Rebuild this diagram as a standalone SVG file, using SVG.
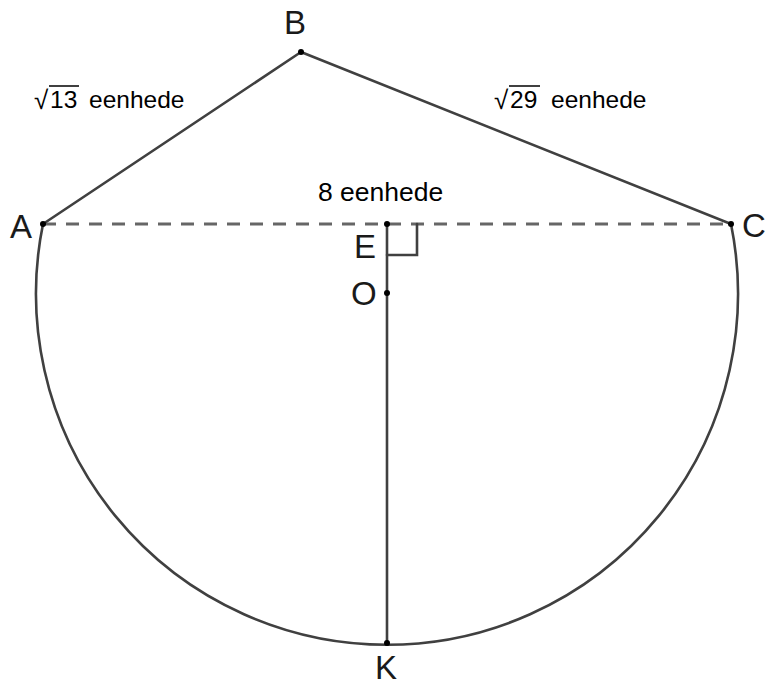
<svg xmlns="http://www.w3.org/2000/svg" width="769" height="686" viewBox="0 0 769 686">
<style>
.ln{fill:none;stroke:#404040;stroke-width:2.6;stroke-linecap:round}
.dash{fill:none;stroke:#666;stroke-width:3;stroke-dasharray:13 10}
.pt{fill:#000}
.lbl{font-family:"Liberation Sans",Arial,sans-serif;font-size:33px;fill:#1a1a1a}
.m{font-family:"Liberation Sans",Arial,sans-serif;font-size:24.5px;fill:#000}
</style>
<rect width="769" height="686" fill="#fff"/>
<g id="connectors">
<line class="dash" x1="43" y1="224" x2="731" y2="224"/>
<line class="ln" x1="43" y1="224" x2="301" y2="52"/>
<line class="ln" x1="301" y1="52" x2="731" y2="224"/>
<path class="ln" d="M43 224 A351 351 0 1 0 731 224"/>
<line class="ln" x1="387" y1="224" x2="387" y2="643"/>
<path class="ln" d="M387 255 H417 V224" stroke-linecap="butt"/>
</g>
<g id="A"><circle class="pt" cx="43" cy="224" r="3"/><text class="lbl" x="10" y="238">A</text></g>
<g id="B"><circle class="pt" cx="301" cy="52" r="3"/><text class="lbl" x="284" y="34">B</text></g>
<g id="C"><circle class="pt" cx="731" cy="224" r="3"/><text class="lbl" x="742" y="237">C</text></g>
<g id="E"><circle class="pt" cx="387" cy="224" r="3"/><text class="lbl" x="354" y="258">E</text></g>
<g id="O"><circle class="pt" cx="387" cy="293" r="3"/><text class="lbl" x="351" y="305">O</text></g>
<g id="K"><circle class="pt" cx="387" cy="643" r="3"/><text class="lbl" x="375" y="679">K</text></g>
<g id="label-AB">
<text class="m" x="34" y="109" style="font-size:26px">√</text>
<line x1="49" y1="86" x2="79" y2="86" stroke="#000" stroke-width="1.5"/>
<text class="m" x="50" y="108">13</text>
<text class="m" x="89" y="108">eenhede</text>
</g>
<g id="label-BC">
<text class="m" x="494" y="109" style="font-size:26px">√</text>
<line x1="509" y1="86" x2="540" y2="86" stroke="#000" stroke-width="1.5"/>
<text class="m" x="510" y="108">29</text>
<text class="m" x="551" y="108">eenhede</text>
</g>
<g id="label-AC">
<text class="m" x="318" y="201" style="font-size:26.5px">8 eenhede</text>
</g>
</svg>
